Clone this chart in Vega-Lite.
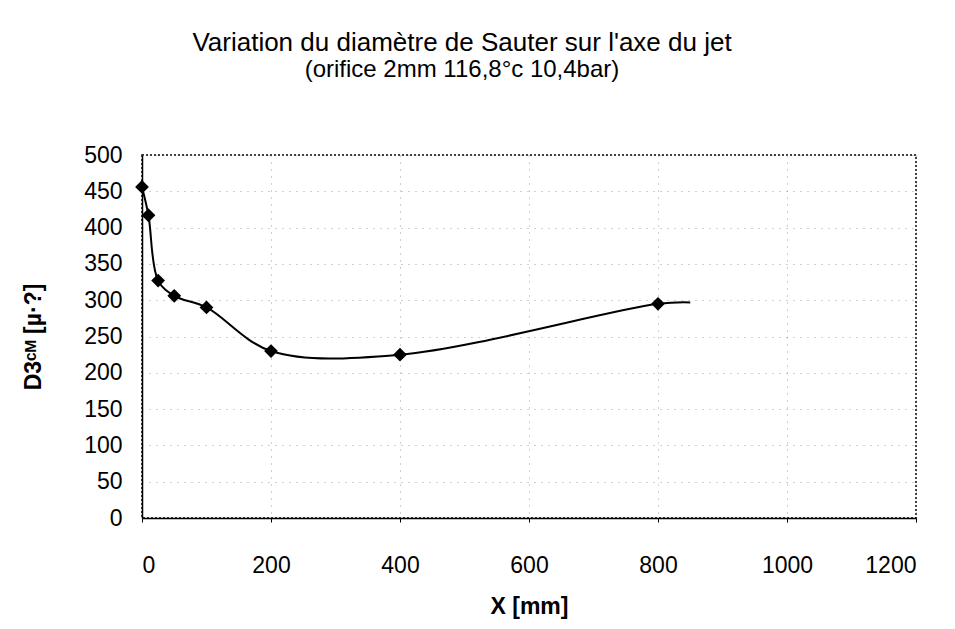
{
  "$schema": "https://vega.github.io/schema/vega-lite/v6.json",
  "autosize": "none",
  "width": 774,
  "height": 363,
  "padding": {"left": 142, "top": 155, "right": 39, "bottom": 111},
  "background": "white",
  "title": {
    "text": "Variation du diamètre de Sauter sur l'axe du jet",
    "subtitle": "(orifice 2mm 116,8°c 10,4bar)",
    "anchor": "middle",
    "dx": -67,
    "offset": 62,
    "font": "Liberation Sans",
    "fontSize": 26,
    "fontWeight": "normal",
    "color": "#000",
    "subtitleFont": "Liberation Sans",
    "subtitleFontSize": 24,
    "subtitleColor": "#000",
    "subtitlePadding": 2
  },
  "data": {
    "values": [
      {"x": 0, "d": 456, "marqueur": true},
      {"x": 10, "d": 417, "marqueur": true},
      {"x": 25, "d": 327, "marqueur": true},
      {"x": 50, "d": 306, "marqueur": true},
      {"x": 100, "d": 290, "marqueur": true},
      {"x": 200, "d": 230, "marqueur": true},
      {"x": 400, "d": 225, "marqueur": true},
      {"x": 800, "d": 295, "marqueur": true},
      {"x": 850, "d": 297, "marqueur": false}
    ]
  },
  "encoding": {
    "x": {
      "field": "x",
      "type": "quantitative",
      "scale": {"domain": [0, 1200], "nice": false, "zero": true},
      "axis": {
        "title": "X [mm]",
        "format": "d",
        "values": [0, 200, 400, 600, 800, 1000, 1200],
        "tickSize": 4,
        "labelPadding": 32,
        "titlePadding": 18
      }
    },
    "y": {
      "field": "d",
      "type": "quantitative",
      "scale": {"domain": [0, 500], "nice": false},
      "axis": {
        "title": "D3ᶜᴹ [µ·?]",
        "format": "d",
        "values": [0, 50, 100, 150, 200, 250, 300, 350, 400, 450, 500],
        "tickSize": 0,
        "labelPadding": 20,
        "titlePadding": 38
      }
    }
  },
  "layer": [
    {
      "mark": {"type": "line", "interpolate": "catmull-rom", "color": "#000", "strokeWidth": 2}
    },
    {
      "transform": [{"filter": "datum.marqueur"}],
      "mark": {"type": "point", "shape": "diamond", "filled": true, "color": "#000", "opacity": 1, "size": 190}
    }
  ],
  "config": {
    "view": {"stroke": "#000", "strokeDash": [2, 2], "strokeWidth": 1.5},
    "axis": {
      "domainColor": "#000",
      "domainWidth": 1.5,
      "tickColor": "#000",
      "labelFont": "Liberation Sans",
      "labelFontSize": 23,
      "labelColor": "#000",
      "titleFont": "Liberation Sans",
      "titleFontSize": 23,
      "titleFontWeight": "bold",
      "titleColor": "#000",
      "grid": true,
      "gridColor": "#777",
      "gridDash": [1, 6],
      "gridOpacity": 0.7
    }
  }
}
